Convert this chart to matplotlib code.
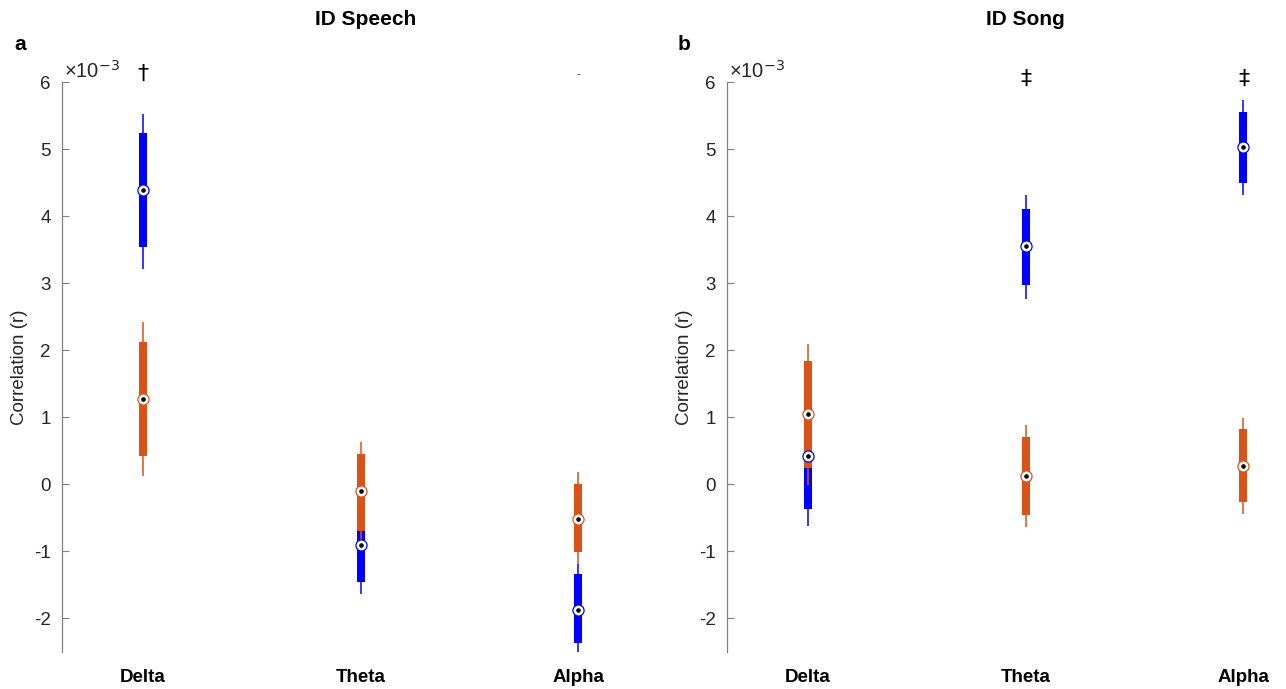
import matplotlib
matplotlib.use("Agg")
import matplotlib.pyplot as plt

bands = ["Delta", "Theta", "Alpha"]
positions = [1, 2, 3]

# ID Speech (x1e-3): whisker low, box low, median, box high, whisker high
speech_blue_wlo = [3.22, -1.63, -2.51]
speech_blue_q1 = [3.54, -1.45, -2.37]
speech_blue_med = [4.39, -0.90, -1.87]
speech_blue_q3 = [5.24, -0.67, -1.34]
speech_blue_whi = [5.52, -0.40, -1.18]

speech_orange_wlo = [0.13, -1.00, -1.18]
speech_orange_q1 = [0.42, -0.70, -1.01]
speech_orange_med = [1.28, -0.10, -0.51]
speech_orange_q3 = [2.13, 0.45, 0.01]
speech_orange_whi = [2.42, 0.63, 0.19]

# ID Song (x1e-3)
song_blue_wlo = [-0.62, 2.77, 4.31]
song_blue_q1 = [-0.36, 2.98, 4.49]
song_blue_med = [0.43, 3.55, 5.04]
song_blue_q3 = [0.90, 4.11, 5.56]
song_blue_whi = [1.40, 4.31, 5.74]

song_orange_wlo = [-0.01, -0.63, -0.44]
song_orange_q1 = [0.24, -0.45, -0.26]
song_orange_med = [1.05, 0.13, 0.28]
song_orange_q3 = [1.84, 0.70, 0.82]
song_orange_whi = [2.10, 0.88, 0.99]

speech_marks = ["\u2020", "", "-"]
song_marks = ["", "\u2021", "\u2021"]

BLUE = "#0000FF"
ORANGE = "#D95319"

plt.rcParams["font.family"] = ["Liberation Sans", "DejaVu Sans"]


def draw_group(ax, wlo, q1, med, q3, whi, color):
    ax.vlines(positions, wlo, whi, color=color, lw=1.1, zorder=2)
    ax.vlines(positions, q1, q3, color=color, lw=5.8, zorder=2)


def draw_medians(ax, med, color):
    ax.plot(positions, med, "o", ms=8, mfc="white", mec=color, mew=0.9, ls="none", zorder=4)
    ax.plot(positions, med, "o", ms=2.3, color="black", ls="none", zorder=5)


def setup(ax, marks, mark_y):
    ax.set_xlim(0.63, 3.2)
    ax.set_ylim(-2.5, 6)
    for side in ["top", "right", "bottom"]:
        ax.spines[side].set_visible(False)
    ax.spines["left"].set_color("#808080")
    ax.spines["left"].set_linewidth(0.9)
    ax.set_yticks([-2, -1, 0, 1, 2, 3, 4, 5, 6])
    ax.set_yticklabels(["-2", "-1", "0", "1", "2", "3", "4", "5", "6"])
    ax.tick_params(axis="y", direction="in", length=5, color="#808080",
                   labelsize=13.5, labelcolor="#262626", pad=8)
    ax.set_xticks(positions)
    ax.set_xticklabels(bands, fontweight="bold", fontsize=13.5, color="black")
    ax.tick_params(axis="x", length=0, pad=12)
    ax.set_ylabel("Correlation (r)", fontsize=13.5, color="#262626")
    ax.yaxis.set_label_coords(-0.061, 0.5)
    ax.text(0.003, 1.0, "\u00d710$^{-3}$", transform=ax.transAxes, fontsize=14.5,
            color="#262626", va="bottom", ha="left")
    for p, m in zip(positions, marks):
        if m:
            ax.text(p, mark_y, m, ha="center", va="center", fontsize=16 if m != "-" else 8,
                    fontfamily="DejaVu Sans", color="black" if m != "-" else "#555555")


fig = plt.figure(figsize=(12.86, 6.89), dpi=100)
ax1 = fig.add_axes([0.0482, 0.0537, 0.4355, 0.827])
ax2 = fig.add_axes([0.5653, 0.0537, 0.4355, 0.827])

draw_group(ax1, speech_blue_wlo, speech_blue_q1, speech_blue_med, speech_blue_q3, speech_blue_whi, BLUE)
draw_group(ax1, speech_orange_wlo, speech_orange_q1, speech_orange_med, speech_orange_q3, speech_orange_whi, ORANGE)
draw_medians(ax1, speech_blue_med, BLUE)
draw_medians(ax1, speech_orange_med, ORANGE)
setup(ax1, speech_marks, 6.12)

draw_group(ax2, song_blue_wlo, song_blue_q1, song_blue_med, song_blue_q3, song_blue_whi, BLUE)
draw_group(ax2, song_orange_wlo, song_orange_q1, song_orange_med, song_orange_q3, song_orange_whi, ORANGE)
draw_medians(ax2, song_blue_med, BLUE)
draw_medians(ax2, song_orange_med, ORANGE)
setup(ax2, song_marks, 6.05)

fig.text(0.284, 0.971, "ID Speech", ha="center", va="center", fontsize=15, fontweight="bold")
fig.text(0.797, 0.971, "ID Song", ha="center", va="center", fontsize=15, fontweight="bold")
fig.text(0.011, 0.935, "a", ha="left", va="center", fontsize=15, fontweight="bold")
fig.text(0.527, 0.935, "b", ha="left", va="center", fontsize=15, fontweight="bold")

fig.savefig("out.png", dpi=100)
